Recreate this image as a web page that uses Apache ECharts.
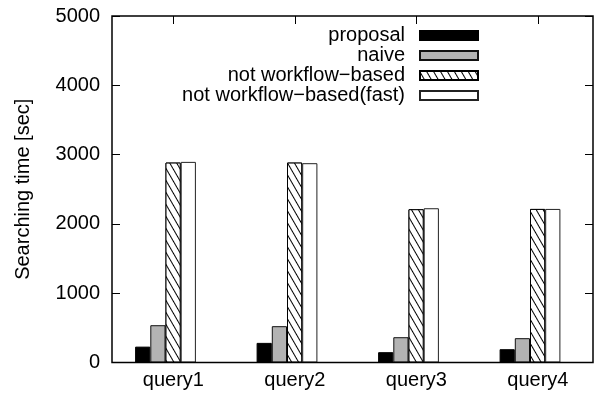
<!DOCTYPE html>
<html>
<head>
<meta charset="utf-8">
<script src="https://cdn.jsdelivr.net/npm/echarts@6/dist/echarts.min.js"></script>
<style>
html,body{margin:0;padding:0;background:#fff;}
#chart{width:599px;height:394px;}
</style>
</head>
<body>
<div id="chart"></div>
<script>
// ---- data ----
var categories = ['query1', 'query2', 'query3', 'query4'];
var seriesNames = ['proposal', 'naive', 'not workflow\u2212based', 'not workflow\u2212based(fast)'];
var proposal = [229, 283, 149, 192];
var naive = [538, 524, 365, 351];
var notWorkflow = [2885, 2885, 2212, 2216];
var notWorkflowFast = [2895, 2876, 2226, 2216];
var yTicks = [0, 1000, 2000, 3000, 4000, 5000];
var yTitle = 'Searching time [sec]';

var FONT = "'Liberation Sans', Arial, Helvetica, sans-serif";
var FS = 20;

var chart = echarts.init(document.getElementById('chart'), null, {renderer: 'canvas'});

var tickIdx = categories.map(function (c, i) { return i; });
var gridTop = 16, gridBottom = 31.5;

var hatch = {
  symbol: 'rect',
  symbolSize: 1,
  dashArrayX: [1, 0],
  dashArrayY: [1, 5],
  rotation: Math.PI / 3,
  color: '#000',
  backgroundColor: '#fff'
};

var styles = [
  {color: '#000', borderColor: '#000', borderWidth: 1},
  {color: '#b3b3b3', borderColor: '#111', borderWidth: 1},
  {color: '#fff', borderColor: '#000', borderWidth: 1, decal: hatch},
  {color: '#fff', borderColor: '#222', borderWidth: 1}
];
var values = [proposal, naive, notWorkflow, notWorkflowFast];

var tickStyle = {show: true, inside: true, length: 8, lineStyle: {color: '#000', width: 1}};

var option = {
  animation: false,
  backgroundColor: '#fff',
  textStyle: {fontFamily: FONT, color: '#000'},
  grid: [
    {left: 112, right: 6, top: gridTop, bottom: gridBottom, show: true, borderColor: '#000', borderWidth: 1.5, backgroundColor: 'transparent', z: 5},
    {left: 104.75, right: 8.25, top: gridTop, bottom: gridBottom}
  ],
  xAxis: [
    {
      gridIndex: 0, type: 'value', min: -0.505, max: 3.454, position: 'bottom',
      axisLine: {show: false, onZero: false}, splitLine: {show: false},
      axisTick: Object.assign({customValues: tickIdx}, tickStyle),
      axisLabel: {show: true, customValues: tickIdx, margin: 8, fontSize: FS, fontFamily: FONT, color: '#000',
        formatter: function (v) { return categories[Math.round(v)]; }}
    },
    {
      gridIndex: 0, type: 'value', min: -0.505, max: 3.454, position: 'top',
      axisLine: {show: false, onZero: false}, splitLine: {show: false},
      axisTick: Object.assign({customValues: tickIdx}, tickStyle),
      axisLabel: {show: false}
    },
    {
      gridIndex: 1, type: 'category', data: categories, show: false, boundaryGap: true
    }
  ],
  yAxis: [
    {
      gridIndex: 0, type: 'value', min: yTicks[0], max: yTicks[yTicks.length - 1], interval: 1000, position: 'left',
      axisLine: {show: false, onZero: false}, splitLine: {show: false},
      axisTick: tickStyle,
      axisLabel: {margin: 12, fontSize: FS, fontFamily: FONT, color: '#000',
        formatter: function (v) { return String(v); }},
      name: yTitle, nameLocation: 'middle', nameGap: 79,
      nameTextStyle: {fontSize: FS, fontFamily: FONT, color: '#000'}
    },
    {
      gridIndex: 0, type: 'value', min: yTicks[0], max: yTicks[yTicks.length - 1], interval: 1000, position: 'right',
      axisLine: {show: false, onZero: false}, splitLine: {show: false},
      axisTick: tickStyle,
      axisLabel: {show: false}
    },
    {
      gridIndex: 1, type: 'value', min: yTicks[0], max: yTicks[yTicks.length - 1], show: false
    }
  ],
  legend: {
    orient: 'vertical', right: 120, top: 25.5, padding: 0, itemGap: 0,
    align: 'right', itemWidth: 58, itemHeight: 9, icon: 'rect',
    data: seriesNames,
    textStyle: {fontSize: FS, fontFamily: FONT, color: '#000', lineHeight: 19.5, padding: [0, 10, 0, 0]}
  },
  series: seriesNames.map(function (name, i) {
    return {
      name: name, type: 'bar', xAxisIndex: 2, yAxisIndex: 2,
      barWidth: 15.2, barGap: '0%',
      itemStyle: styles[i],
      emphasis: {disabled: true},
      data: values[i]
    };
  })
};
chart.setOption(option);
</script>
</body>
</html>
